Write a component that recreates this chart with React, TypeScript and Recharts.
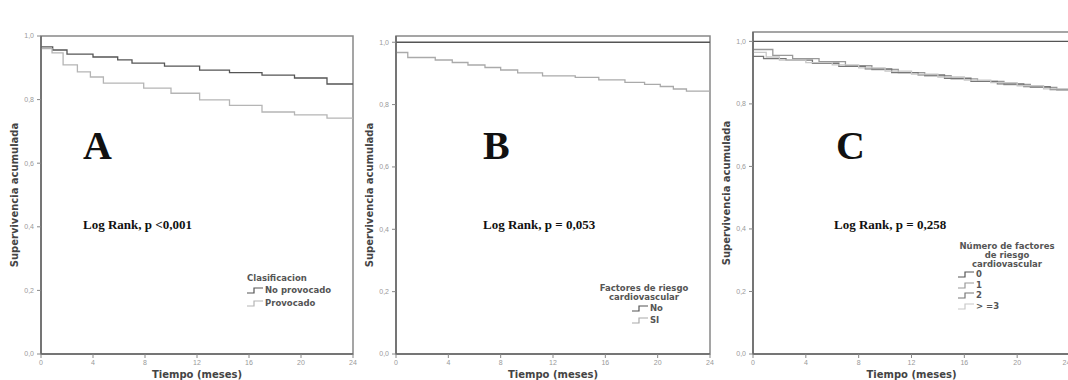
import { LineChart, Line, XAxis, YAxis, ReferenceArea } from "recharts";

// Panel A: Clasificacion
const aNoProvT = [0, 0.9, 2, 4, 5.9, 7, 9.5, 12.2, 14.5, 17, 19.5, 22, 24];
const aNoProvS = [0.966, 0.956, 0.943, 0.934, 0.925, 0.915, 0.905, 0.893, 0.885, 0.877, 0.868, 0.849, 0.849];
const aProvT = [0, 0.85, 1.7, 2.8, 3.8, 4.8, 7.9, 10, 12.2, 14.5, 17, 19.5, 22, 24];
const aProvS = [0.96, 0.947, 0.909, 0.887, 0.871, 0.852, 0.836, 0.82, 0.799, 0.782, 0.761, 0.752, 0.742, 0.742];

// Panel B: Factores de riesgo cardiovascular
const bNoT = [0, 24];
const bNoS = [1, 1];
const bSiT = [0, 0.9, 3, 4.3, 5.5, 6.8, 8, 9.3, 11.2, 13.7, 15.5, 17.5, 19, 20.2, 21.2, 22.2, 24];
const bSiS = [0.967, 0.951, 0.943, 0.935, 0.927, 0.919, 0.911, 0.902, 0.892, 0.887, 0.879, 0.871, 0.865, 0.858, 0.85, 0.843, 0.843];

// Panel C: Numero de factores
const c0T = [0, 24];
const c0S = [1, 1];
const c1T = [0, 1.5, 3, 5, 7, 9, 11, 13, 15, 17, 19, 21, 23, 24];
const c1S = [0.974, 0.955, 0.945, 0.935, 0.922, 0.91, 0.9, 0.89, 0.88, 0.872, 0.862, 0.853, 0.845, 0.845];
const c2T = [0, 0.8, 2.5, 4.5, 6.5, 8.5, 10.5, 12.5, 14.5, 16.5, 18.5, 20.5, 22.5, 24];
const c2S = [0.952, 0.945, 0.94, 0.93, 0.92, 0.912, 0.9, 0.893, 0.882, 0.872, 0.864, 0.855, 0.846, 0.842];
const c3T = [0, 1, 2, 4, 6, 8, 10, 12, 14, 16, 18, 20, 22, 24];
const c3S = [0.965, 0.95, 0.94, 0.932, 0.925, 0.915, 0.905, 0.895, 0.886, 0.876, 0.868, 0.858, 0.848, 0.84];

const xTicks = [0, 4, 8, 12, 16, 20, 24];
const yTicks = [0, 0.2, 0.4, 0.6, 0.8, 1.0];

const toRows = (t: number[], s: number[]) => t.map((v, i) => ({ t: v, s: s[i] }));
const fmt = (v: number) => v.toFixed(1).replace(".", ",");

const sans = "'DejaVu Sans', sans-serif";
const serif = "'Liberation Serif', 'Times New Roman', serif";

type Series = { name: string; t: number[]; s: number[]; color: string };

function StepIcon({ color }: { color: string }) {
  return (
    <svg width={16} height={9} style={{ verticalAlign: "middle", marginRight: 2 }}>
      <path d="M0,7 H7 V2 H16" fill="none" stroke={color} strokeWidth={1.2} />
    </svg>
  );
}

function KmLegend(p: {
  left: number;
  top: number;
  width: number;
  title: string[];
  series: Series[];
  align: "left" | "center";
  itemPad: number;
  titleLine: number;
  itemLine: number;
}) {
  return (
    <div
      style={{
        position: "absolute",
        left: p.left,
        top: p.top,
        width: p.width,
        fontFamily: sans,
        fontSize: 8.5,
        fontWeight: "bold",
        color: "#555",
      }}
    >
      {p.title.map((l) => (
        <div key={l} style={{ textAlign: p.align, lineHeight: p.titleLine + "px", whiteSpace: "nowrap" }}>
          {l}
        </div>
      ))}
      {p.series.map((s) => (
        <div key={s.name} style={{ paddingLeft: p.itemPad, lineHeight: p.itemLine + "px", height: p.itemLine, whiteSpace: "nowrap" }}>
          <StepIcon color={s.color} />
          {s.name}
        </div>
      ))}
    </div>
  );
}

function Panel(p: { left: number; width: number; top: number; yMax: number; series: Series[]; marginRight: number }) {
  return (
    <div style={{ position: "absolute", left: p.left, top: 0 }}>
      <LineChart width={p.width} height={380} margin={{ top: p.top, right: p.marginRight, bottom: 0, left: 0 }}>
        <ReferenceArea x1={0} x2={24} y1={0} y2={p.yMax} fill="none" stroke="#888" strokeWidth={1.5} ifOverflow="visible" />
        <XAxis
          dataKey="t"
          type="number"
          domain={[0, 24]}
          ticks={xTicks}
          height={26}
          tickSize={4}
          tick={{ fontSize: 7, fill: "#999", fontFamily: "'Liberation Sans', sans-serif" }}
          tickLine={{ stroke: "#888" }}
          axisLine={{ stroke: "#666", strokeWidth: 1.5 }}
          label={(lp: any) => {
            const vb = lp.viewBox;
            return (
              <text x={vb.x + vb.width / 2} y={vb.y + 24} textAnchor="middle" fontFamily={sans} fontWeight="bold" fontSize={10} fill="#444">
                Tiempo (meses)
              </text>
            );
          }}
        />
        <YAxis
          type="number"
          domain={[0, p.yMax]}
          ticks={yTicks}
          width={41}
          tickSize={4}
          tickMargin={3}
          tickFormatter={fmt}
          tick={{ fontSize: 7, fill: "#999", fontFamily: "'Liberation Sans', sans-serif" }}
          tickLine={{ stroke: "#888" }}
          axisLine={{ stroke: "#666", strokeWidth: 1.5 }}
          label={(lp: any) => {
            const vb = lp.viewBox;
            const x = vb.x + 14;
            const y = vb.y + vb.height / 2;
            return (
              <text x={x} y={y} transform={`rotate(-90 ${x} ${y})`} textAnchor="middle" dominantBaseline="central" fontFamily={sans} fontWeight="bold" fontSize={10} fill="#444">
                Supervivencia acumulada
              </text>
            );
          }}
        />
        {p.series.map((s) => (
          <Line
            key={s.name}
            data={toRows(s.t, s.s)}
            dataKey="s"
            name={s.name}
            type="stepAfter"
            stroke={s.color}
            strokeWidth={1.3}
            dot={false}
            isAnimationActive={false}
          />
        ))}
      </LineChart>
    </div>
  );
}

const letterStyle = (left: number): React.CSSProperties => ({
  position: "absolute",
  left,
  top: 126,
  fontFamily: serif,
  fontWeight: "bold",
  fontSize: 40,
  lineHeight: "40px",
  color: "#111",
});

const rankStyle = (left: number): React.CSSProperties => ({
  position: "absolute",
  left,
  top: 217,
  fontFamily: serif,
  fontWeight: "bold",
  fontSize: 13,
  lineHeight: "15px",
  color: "#111",
  whiteSpace: "nowrap",
});

const seriesA: Series[] = [
  { name: "No provocado", t: aNoProvT, s: aNoProvS, color: "#555" },
  { name: "Provocado", t: aProvT, s: aProvS, color: "#b5b5b5" },
];
const seriesB: Series[] = [
  { name: "No", t: bNoT, s: bNoS, color: "#555" },
  { name: "SI", t: bSiT, s: bSiS, color: "#aaa" },
];
const seriesC: Series[] = [
  { name: "0", t: c0T, s: c0S, color: "#555" },
  { name: "1", t: c1T, s: c1S, color: "#999" },
  { name: "2", t: c2T, s: c2S, color: "#777" },
  { name: "> =3", t: c3T, s: c3S, color: "#c8c8c8" },
];

export default function App() {
  return (
    <div style={{ position: "absolute", left: 0, top: 0, width: 1068, height: 380, overflow: "hidden", background: "#fff" }}>
      <Panel left={0} width={360} top={36} yMax={1.0} marginRight={7} series={seriesA} />
      <Panel left={355} width={360} top={36} yMax={1.02} marginRight={5} series={seriesB} />
      <Panel left={712} width={358} top={32} yMax={1.03} marginRight={0} series={seriesC} />
      <KmLegend left={247} top={272} width={95} title={["Clasificacion"]} series={seriesA} align="left" itemPad={0} titleLine={12} itemLine={12.5} />
      <KmLegend left={594} top={284} width={100} title={["Factores de riesgo", "cardiovascular"]} series={seriesB} align="center" itemPad={38} titleLine={9} itemLine={12} />
      <KmLegend left={955} top={242} width={104} title={["Número de factores", "de riesgo", "cardiovascular"]} series={seriesC} align="center" itemPad={3} titleLine={9} itemLine={10.7} />
      <div style={letterStyle(83)}>A</div>
      <div style={letterStyle(483)}>B</div>
      <div style={letterStyle(836)}>C</div>
      <div style={rankStyle(83)}>Log Rank, p &lt;0,001</div>
      <div style={rankStyle(483)}>Log Rank, p = 0,053</div>
      <div style={rankStyle(834)}>Log Rank, p = 0,258</div>
    </div>
  );
}
